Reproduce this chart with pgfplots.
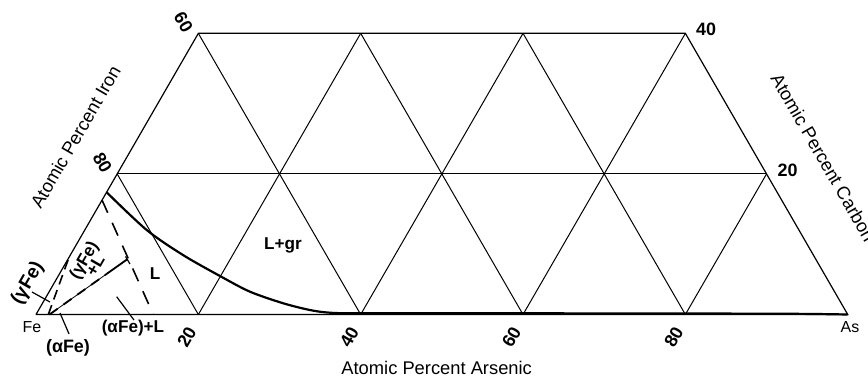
\documentclass[border=0pt]{standalone}
\usepackage{fontspec}
\setmainfont{Liberation Sans}
\usepackage{pgfplots}
\pgfplotsset{compat=1.18}
% ternary coordinates: x = As + C/2, y = C*sqrt(3)/2 (percent)
\begin{document}
\begin{tikzpicture}
\begin{axis}[
  scale only axis, width=434bp, height=188.5bp,
  xmin=-4.435, xmax=102.5, ymin=-7.70, ymax=38.75,
  hide axis, clip=false,
  every axis plot/.append style={black, no markers},
]
\coordinate (SW) at (rel axis cs:0,0);
\coordinate (NE) at (rel axis cs:1,1);
% outline, cut at 40 at.% C
\addplot[line width=0.6bp] coordinates {(0,0)(100,0)(80,34.641)(20,34.641)(0,0)};
% grid
\addplot[line width=0.5bp] coordinates {(10,17.32)(90,17.32)};
\addplot[line width=0.5bp] coordinates {(20,0)(40,34.641)};
\addplot[line width=0.5bp] coordinates {(40,0)(60,34.641)};
\addplot[line width=0.5bp] coordinates {(60,0)(80,34.641)};
\addplot[line width=0.5bp] coordinates {(80,0)(90,17.32)};
\addplot[line width=0.5bp] coordinates {(20,0)(10,17.32)};
\addplot[line width=0.5bp] coordinates {(40,0)(20,34.641)};
\addplot[line width=0.5bp] coordinates {(60,0)(40,34.641)};
\addplot[line width=0.5bp] coordinates {(80,0)(60,34.641)};
% liquidus L / L+gr
\addplot[line width=1.1bp, smooth, tension=0.5] coordinates {
 (8.71,15.05)(13.64,10.41)(18.11,7.33)(22.67,4.74)(26.36,2.81)(30.47,1.38)
 (33.76,0.55)(36.22,0.22)(40.04,0.15)(57.16,0.15)(81.80,0.12)(94.12,0.08)(100,0)};
% L / (aFe)+L
\addplot[line width=0.8bp, dash pattern=on 7bp off 5.5bp] coordinates {(8.13,14.11)(14.45,0)};
% (gFe) / (gFe)+L
\addplot[line width=0.8bp, dash pattern=on 5bp off 3bp] coordinates {(1.515,0)(4.07,7.05)};
% (gFe)+L / (aFe)+L
\addplot[line width=0.4bp] coordinates {(1.66,0)(11.21,6.78)};
\addplot[line width=0.9bp, dash pattern=on 5bp off 3.5bp] coordinates {(1.66,0)(8.7,5.0)};
\addplot[line width=0.9bp] coordinates {(8.7,5.0)(11.21,6.78)};
\addplot[line width=0.6bp] coordinates {(11.03,7.15)(11.58,6.22)};
% leaders
\addplot[line width=0.6bp] coordinates {(-0.49,2.77)(1.72,1.54)};
\addplot[line width=0.6bp] coordinates {(2.96,0.18)(4.07,-2.40)};
\addplot[line width=0.6bp] coordinates {(9.94,2.19)(12.07,-0.68)};

% tick labels
\begin{scope}[every node/.style={font=\fontsize{9}{10}\selectfont\bfseries, inner sep=0pt}]
\node[rotate=60] at (axis cs:18.58,-2.77) {20};
\node[rotate=60] at (axis cs:38.58,-2.77) {40};
\node[rotate=60] at (axis cs:58.58,-2.77) {60};
\node[rotate=60] at (axis cs:78.58,-2.77) {80};
\node[rotate=-60] at (axis cs:18.18,36.02) {60};
\node[rotate=-60] at (axis cs:8.18,18.70) {80};
\node at (axis cs:82.55,35.14) {40};
\node at (axis cs:92.59,17.82) {20};
\end{scope}
% axis titles
\begin{scope}[every node/.style={font=\fontsize{9.2}{11}\selectfont, inner sep=0pt}]
\node at (axis cs:49.36,-6.60) {Atomic Percent Arsenic};
\node[rotate=60] at (axis cs:4.87,21.89) {Atomic Percent Iron};
\node[rotate=-60] at (axis cs:96.99,19.34) {Atomic Percent Carbon};
\end{scope}
% corners
\node[font=\fontsize{8}{9}\selectfont, inner sep=0pt] at (axis cs:-0.49,-1.54) {Fe};
\node[font=\fontsize{8}{9}\selectfont, inner sep=0pt] at (axis cs:100.28,-1.54) {As};
% phase labels
\begin{scope}[every node/.style={font=\fontsize{8.6}{9}\selectfont\bfseries, inner sep=0pt}]
\node at (axis cs:30.43,8.56) {L+gr};
\node at (axis cs:14.66,5.08) {L};
\node at (axis cs:11.95,-1.72) {(αFe)+L};
\node[font=\fontsize{9}{10}\selectfont\bfseries] at (axis cs:3.94,-4.07) {(αFe)};
\node[rotate=60, font=\fontsize{9.6}{10}\selectfont\bfseries] at (axis cs:-1.0,3.85) {(γFe)};
\node[rotate=60] at (axis cs:6.0,6.6) {(γFe)};
\node[rotate=60] at (axis cs:7.3,6.0) {+L};
\end{scope}
\end{axis}
\pgfresetboundingbox
\useasboundingbox (SW) rectangle (NE);
\end{tikzpicture}
\end{document}
